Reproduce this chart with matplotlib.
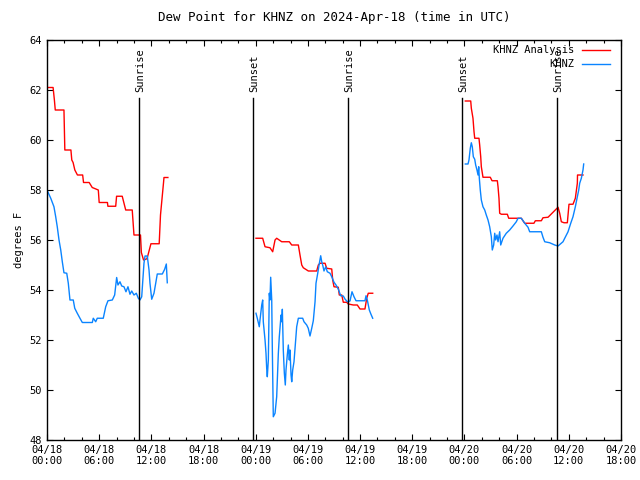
import numpy as np
import matplotlib
matplotlib.use("Agg")
import matplotlib.pyplot as plt

# hours since 2024-04-18 00:00 UTC
# analysis (red) and observed (blue), three separate periods
ana1_t = [0.0, 0.7, 0.85, 0.95, 1.95, 2.05, 2.75, 2.85, 3.0, 3.2, 3.35, 3.5, 4.1, 4.2, 4.85,
          5.2, 5.9, 6.0, 6.95, 7.0, 7.9, 8.0, 8.65, 9.05, 9.8, 10.0, 10.75, 10.85, 11.1, 11.5,
          11.95, 12.9, 13.05, 13.4, 13.45, 13.9]
ana1_v = [62.1, 62.1, 61.6, 61.2, 61.2, 59.6, 59.6, 59.2, 59.1, 58.8, 58.7, 58.6, 58.6, 58.3, 58.3,
          58.1, 58.0, 57.5, 57.5, 57.35, 57.35, 57.75, 57.75, 57.2, 57.2, 56.2, 56.2, 55.5, 55.2, 55.25,
          55.85, 55.85, 57.0, 58.3, 58.5, 58.5]
obs1_t = [0.0, 0.43, 0.8, 1.0, 1.18, 1.38, 1.58, 1.76, 1.95, 2.27, 2.45, 2.64, 3.02, 3.19, 3.48,
          3.79, 4.06, 5.21, 5.32, 5.6, 5.78, 6.47, 6.75, 7.01, 7.51, 7.78, 8.01, 8.16, 8.39, 8.59,
          8.85, 9.08, 9.31, 9.54, 9.74, 10.0, 10.27, 10.5, 10.69, 10.89, 11.15, 11.27, 11.53, 11.73,
          11.84, 12.04, 12.3, 12.5, 12.68, 13.26, 13.53, 13.72, 13.83]
obs1_v = [58.0, 57.67, 57.33, 56.93, 56.53, 56.0, 55.6, 55.13, 54.69, 54.67, 54.27, 53.6, 53.6, 53.27, 53.07,
          52.87, 52.7, 52.7, 52.87, 52.73, 52.87, 52.87, 53.33, 53.57, 53.6, 53.8, 54.5, 54.2, 54.33, 54.16,
          54.13, 53.93, 54.13, 53.83, 53.96, 53.8, 53.87, 53.67, 53.6, 53.73, 55.07, 55.36, 55.36, 54.8,
          54.27, 53.63, 53.87, 54.27, 54.64, 54.64, 54.83, 55.04, 54.29]

ana2_t = [24.03, 24.8, 25.07, 25.64, 25.95, 26.22, 26.41, 26.99, 27.86, 28.14, 28.9, 29.09, 29.29,
          29.47, 30.05, 31.01, 31.2, 31.39, 31.97, 32.16, 32.74, 32.85, 33.0, 33.49, 33.61, 33.89,
          34.07, 34.46, 34.64, 35.22, 35.68, 35.99, 36.56, 36.76, 36.94, 37.45]
ana2_v = [56.07, 56.07, 55.73, 55.69, 55.53, 56.0, 56.07, 55.93, 55.93, 55.8, 55.8, 55.4, 55.0,
          54.89, 54.76, 54.76, 55.0, 55.07, 55.07, 54.87, 54.84, 54.4, 54.13, 54.11, 53.8, 53.8,
          53.51, 53.51, 53.44, 53.4, 53.4, 53.24, 53.24, 53.67, 53.87, 53.87]
obs2_t = [24.03, 24.18, 24.41, 24.49, 24.69, 24.8, 24.87, 25.07, 25.18, 25.26, 25.33, 25.45, 25.56,
          25.64, 25.72, 25.84, 25.9, 26.02, 26.22, 26.41, 26.6, 26.71, 26.91, 26.99, 27.06, 27.17,
          27.29, 27.4, 27.48, 27.63, 27.75, 27.86, 27.94, 28.06, 28.14, 28.25, 28.4, 28.52, 28.71,
          28.9, 29.4, 29.55, 29.86, 30.04, 30.24, 30.44, 30.62, 30.82, 30.93, 31.13, 31.28, 31.47,
          31.59, 31.7, 31.85, 32.05, 32.23, 32.54, 32.74, 33.0, 33.23, 33.49, 33.77, 34.07, 34.26,
          34.53, 34.84, 35.07, 35.3, 35.53, 36.56, 36.68, 36.83, 37.06, 37.25, 37.45]
obs2_v = [53.07, 52.87, 52.53, 52.8, 53.4, 53.6, 52.73, 52.0, 51.47, 50.87, 50.53, 51.2, 53.87,
          53.6, 54.51, 53.6, 51.87, 48.93, 49.07, 49.73, 51.47, 52.13, 53.0, 52.73, 53.23, 51.6,
          50.67, 50.2, 50.8, 51.4, 51.8, 51.2, 51.6, 50.6, 50.33, 50.8, 51.13, 51.67, 52.53,
          52.87, 52.87, 52.73, 52.6, 52.47, 52.16, 52.47, 52.77, 53.53, 54.27, 54.67, 55.0, 55.37,
          55.13, 55.0, 54.76, 54.93, 54.73, 54.67, 54.53, 54.31, 54.2, 54.04, 53.77, 53.76, 53.64,
          53.53, 53.56, 53.93, 53.73, 53.57, 53.57, 53.77, 53.6, 53.2, 53.03, 52.87]

ana3_t = [48.1, 48.72, 48.79, 48.98, 49.1, 49.18, 49.67, 49.75, 49.87, 49.94, 50.13, 50.97, 51.17,
          51.78, 51.86, 51.97, 52.05, 52.24, 52.93, 53.09, 54.54, 54.73, 54.93, 55.99, 56.15, 56.84,
          57.03, 57.61, 58.76, 58.95, 59.14, 59.45, 59.83, 60.02, 60.48, 60.75, 60.98, 61.0, 61.63]
ana3_v = [61.56, 61.56, 61.27, 60.87, 60.33, 60.07, 60.07, 59.8, 59.33, 58.93, 58.51, 58.51, 58.37,
          58.37, 58.13, 57.67, 57.07, 57.03, 57.03, 56.87, 56.87, 56.77, 56.67, 56.67, 56.77, 56.77,
          56.89, 56.91, 57.31, 57.07, 56.73, 56.69, 56.69, 57.43, 57.43, 57.67, 58.27, 58.6, 58.6]
obs3_t = [48.1, 48.41, 48.52, 48.67, 48.79, 48.9, 49.02, 49.18, 49.29, 49.44, 49.56, 49.64, 49.71,
          49.82, 49.94, 50.13, 50.33, 50.51, 50.71, 50.9, 51.09, 51.2, 51.36, 51.48, 51.59, 51.74,
          51.86, 52.05, 52.17, 52.43, 52.81, 53.2, 53.58, 53.96, 54.16, 54.54, 54.93, 55.31, 55.5,
          56.84, 57.03, 57.23, 57.8, 58.38, 58.76, 59.33, 59.53, 59.91, 60.22, 60.48, 60.75, 60.98,
          61.14, 61.25, 61.44, 61.63, 61.71]
obs3_v = [59.04, 59.04, 59.2, 59.67, 59.89, 59.73, 59.33, 59.23, 59.0, 58.8, 58.6, 58.93, 58.47,
          58.0, 57.6, 57.33, 57.2, 57.0, 56.8, 56.53, 56.13, 55.6, 55.8, 56.27, 56.0, 56.2,
          55.93, 56.33, 55.8, 56.07, 56.27, 56.4, 56.56, 56.73, 56.87, 56.87, 56.67, 56.51, 56.33,
          56.33, 56.11, 55.93, 55.89, 55.8, 55.76, 55.93, 56.07, 56.33, 56.67, 56.93, 57.33, 57.73,
          58.0, 58.27, 58.47, 58.8, 59.04]

sun_t = [10.58, 23.69, 34.61, 47.72, 58.64]
sun_lbl = ["Sunrise", "Sunset", "Sunrise", "Sunset", "Sunrise"]

xtick_lbl = ["04/18\n00:00", "04/18\n06:00", "04/18\n12:00", "04/18\n18:00",
             "04/19\n00:00", "04/19\n06:00", "04/19\n12:00", "04/19\n18:00",
             "04/20\n00:00", "04/20\n06:00", "04/20\n12:00", "04/20\n18:00"]

plt.rcParams['font.family'] = 'DejaVu Sans Mono'
plt.rcParams['font.size'] = 7.5

fig = plt.figure(figsize=(6.4, 4.8), dpi=100)
ax = fig.add_axes([47/640, 40/480, 574/640, 400/480])

red = '#ff0000'
blue = '#0a84ff'
ax.plot(ana1_t, ana1_v, color=red, lw=1.0, label='KHNZ Analysis')
ax.plot(obs1_t, obs1_v, color=blue, lw=1.0, label='KHNZ')
ax.plot(ana2_t, ana2_v, color=red, lw=1.0)
ax.plot(obs2_t, obs2_v, color=blue, lw=1.0)
ax.plot(ana3_t, ana3_v, color=red, lw=1.0)
ax.plot(obs3_t, obs3_v, color=blue, lw=1.0)

for t, lbl in zip(sun_t, sun_lbl):
    ax.plot([t, t], [48, 61.67], color='k', lw=1.0)
    ax.text(t + 0.15, 61.92, lbl, rotation=90, ha='center', va='bottom')

ax.set_xlim(0, 66)
ax.set_ylim(48, 64)
ax.set_xticks(np.arange(0, 67, 6))
ax.set_xticklabels(xtick_lbl)
ax.set_xticks(np.arange(0, 67, 2), minor=True)
ax.set_yticks(np.arange(48, 65, 2))
ax.tick_params(which='both', direction='in', top=True, right=True, width=0.8)
ax.tick_params(which='major', length=4.5)
ax.tick_params(which='minor', length=2.5)
for s in ax.spines.values():
    s.set_linewidth(1.0)

ax.set_ylabel('degrees F')
ax.set_title('Dew Point for KHNZ on 2024-Apr-18 (time in UTC)', pad=14)

leg = ax.legend(loc='upper right', bbox_to_anchor=(0.981, 0.987), frameon=False,
                markerfirst=False, handlelength=2.7, borderaxespad=0, borderpad=0,
                labelspacing=0.4, handletextpad=0.7)

fig.savefig('out.png', dpi=100)
